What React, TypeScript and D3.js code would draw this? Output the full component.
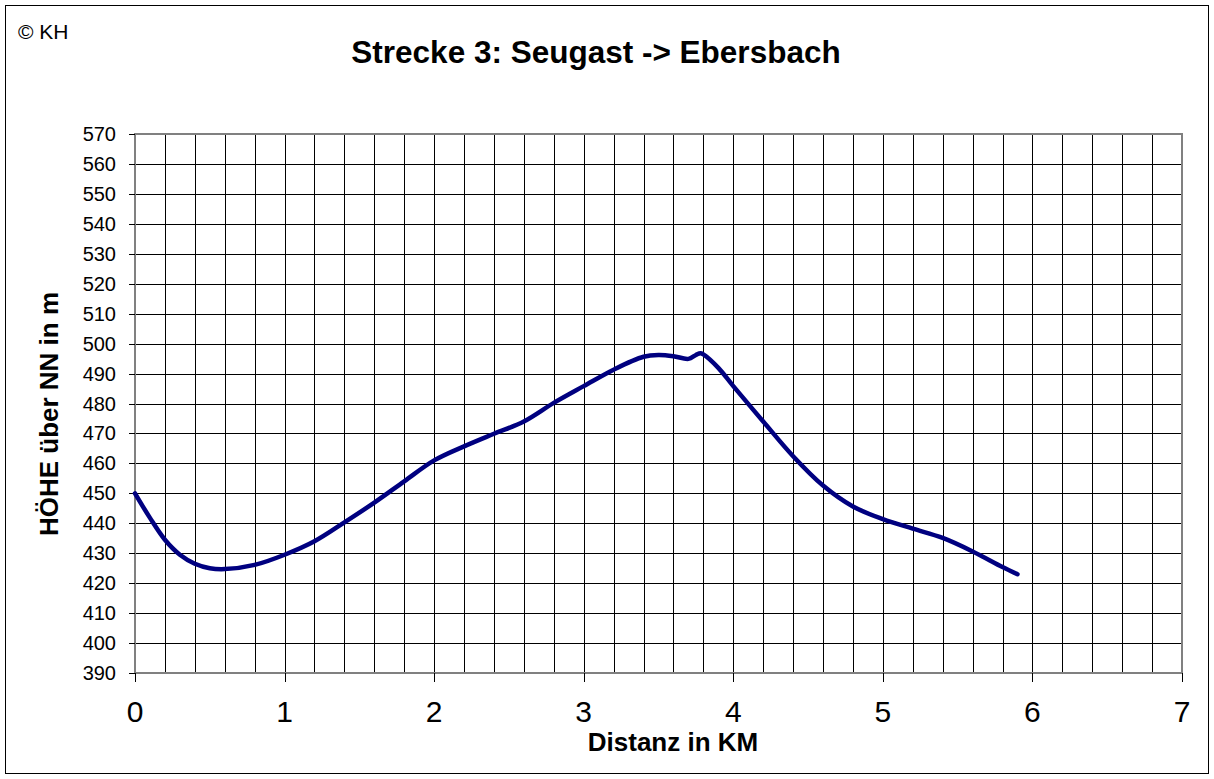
import React from "react";
import * as d3 from "d3";

const distKm = [0, 0.1, 0.2, 0.3, 0.4, 0.5, 0.6, 0.8, 1.0, 1.2, 1.4, 1.6, 1.8, 2.0, 2.2, 2.4, 2.6, 2.8, 3.0, 3.2, 3.4, 3.5, 3.6, 3.7, 3.75, 3.78, 3.8, 3.9, 4.0, 4.2, 4.4, 4.6, 4.8, 5.0, 5.2, 5.4, 5.6, 5.8, 5.9];
const heightM = [450, 441.8, 434.5, 429.5, 426.5, 425, 424.7, 426.1, 429.5, 434, 440.3, 446.9, 454, 461, 465.7, 469.9, 474, 480.2, 485.8, 491.3, 495.6, 496.2, 495.8, 494.9, 496.2, 496.8, 496.4, 491.9, 485.8, 474, 462.4, 452.6, 445.6, 441.4, 438.2, 435.1, 430.6, 425.4, 423];

const xTicks = [0, 1, 2, 3, 4, 5, 6, 7];
const yTicks = d3.range(390, 571, 10);
const xGrid = d3.range(0, 36).map((i) => i * 0.2);

const title = "Strecke 3: Seugast -> Ebersbach";
const xTitle = "Distanz in KM";
const yTitle = "HÖHE über NN in m";
const copyright = "© KH";

export default function App() {
  const W = 1214, H = 779;
  const left = 135, right = 1182, top = 134, bottom = 673;
  const x = d3.scaleLinear().domain([0, 7]).range([left, right]);
  const y = d3.scaleLinear().domain([390, 570]).range([bottom, top]);
  const pts = distKm.map((d, i) => [d, heightM[i]] as [number, number]);
  const line = d3
    .line<[number, number]>()
    .x((d) => x(d[0]))
    .y((d) => y(d[1]))
    .curve(d3.curveCatmullRom.alpha(0.5));
  const font = "'Liberation Sans', Arial, sans-serif";
  const r = (v: number) => Math.round(v) + 0.5;

  return (
    <svg width={W} height={H} style={{ position: "absolute", left: 0, top: 0, background: "#fff" }} fontFamily={font}>
      <rect x={0} y={0} width={W} height={H} fill="#fff" />
      <rect x={5.5} y={5.5} width={1203} height={768} fill="none" stroke="#000" strokeWidth={1} />
      <text x={18} y={39} fontSize={21}>{copyright}</text>
      <text x={596} y={63} fontSize={31.5} fontWeight="bold" textAnchor="middle">{title}</text>

      {/* grid */}
      <g shapeRendering="crispEdges">
        {yTicks.map((t) => (
          <line key={"h" + t} x1={left} x2={right} y1={r(y(t))} y2={r(y(t))} stroke="#000" strokeWidth={1} />
        ))}
        {xGrid.map((t) => (
          <line key={"v" + t} x1={r(x(t))} x2={r(x(t))} y1={top} y2={bottom} stroke="#000" strokeWidth={1} />
        ))}
        <rect x={left} y={top} width={right - left} height={bottom - top} fill="none" stroke="#808080" strokeWidth={2} />
        {yTicks.map((t) => (
          <line key={"yt" + t} x1={left - 6} x2={left} y1={r(y(t))} y2={r(y(t))} stroke="#000" strokeWidth={1} />
        ))}
        {xTicks.map((t) => (
          <line key={"xt" + t} x1={r(x(t))} x2={r(x(t))} y1={bottom} y2={bottom + 9} stroke="#000" strokeWidth={1} />
        ))}
      </g>

      {yTicks.map((t) => (
        <text key={"yl" + t} x={116} y={y(t) + 7} fontSize={20} textAnchor="end">{t}</text>
      ))}
      {xTicks.map((t) => (
        <text key={"xl" + t} x={x(t)} y={722} fontSize={30} textAnchor="middle">{t}</text>
      ))}

      <text x={673} y={751} fontSize={26} fontWeight="bold" textAnchor="middle">{xTitle}</text>
      <text transform={`translate(58,414) rotate(-90)`} fontSize={26} fontWeight="bold" textAnchor="middle">{yTitle}</text>

      <path d={line(pts) || ""} fill="none" stroke="#000080" strokeWidth={4.5} strokeLinejoin="round" strokeLinecap="round" />
    </svg>
  );
}
